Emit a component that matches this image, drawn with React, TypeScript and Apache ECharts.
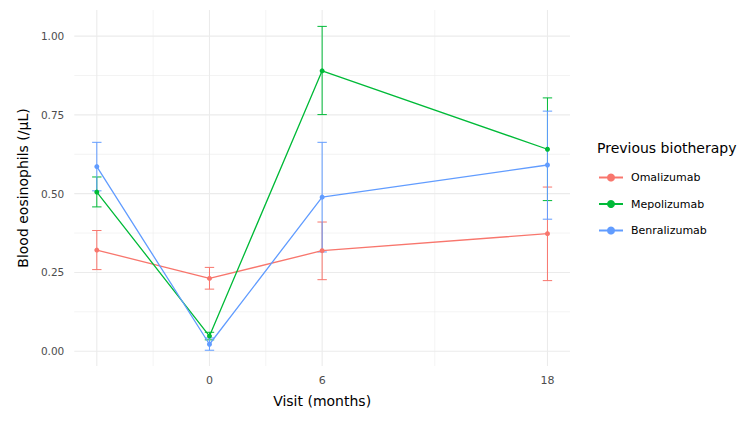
import React, { useEffect, useRef } from "react";
import * as echarts from "echarts";

// Visit times in months (-6 = baseline visit before switch)
const visits = [-6, 0, 6, 18];
const xTickLabels = [0, 6, 18];
const xGridMajor = [-6, 0, 6, 18];
const xGridMinor = [-3, 3, 12];
const yTickLabels = [0, 0.25, 0.5, 0.75, 1.0];
const yGridMinor = [0.125, 0.375, 0.625, 0.875];

const groups = ["Omalizumab", "Mepolizumab", "Benralizumab"];
const colors = ["#F8766D", "#00BA38", "#619CFF"];

const omaMean = [0.321, 0.231, 0.319, 0.373];
const omaLow = [0.259, 0.197, 0.227, 0.224];
const omaHigh = [0.383, 0.266, 0.41, 0.521];

const mepoMean = [0.505, 0.048, 0.89, 0.641];
const mepoLow = [0.458, 0.036, 0.751, 0.478];
const mepoHigh = [0.553, 0.06, 1.031, 0.804];

const benraMean = [0.586, 0.022, 0.489, 0.591];
const benraLow = [0.509, 0.003, 0.315, 0.419];
const benraHigh = [0.663, 0.042, 0.663, 0.762];

const means = [omaMean, mepoMean, benraMean];
const lows = [omaLow, mepoLow, benraLow];
const highs = [omaHigh, mepoHigh, benraHigh];

const FONT = "'DejaVu Sans', Verdana, sans-serif";
const X_MIN = -7.2;
const X_MAX = 19.2;
const Y_MIN = -0.047;
const Y_MAX = 1.083;

export default function App() {
  const ref = useRef<HTMLDivElement>(null);

  useEffect(() => {
    if (!ref.current) return;
    const chart = echarts.init(ref.current, undefined, { renderer: "svg" });

    const vGrid = {
      type: "custom",
      silent: true,
      z: 0,
      data: [
        ...xGridMajor.map((x) => [x, 1]),
        ...xGridMinor.map((x) => [x, 0]),
      ],
      renderItem: (params: any, api: any) => {
        const cs = params.coordSys;
        const p = api.coord([api.value(0), 0]);
        return {
          type: "line",
          shape: { x1: p[0], y1: cs.y, x2: p[0], y2: cs.y + cs.height },
          style: { stroke: "#EBEBEB", lineWidth: api.value(1) ? 1.1 : 0.6 },
        };
      },
    };

    const hGrid = {
      type: "custom",
      silent: true,
      z: 0,
      data: [
        ...yTickLabels.map((y) => [0, y, 1]),
        ...yGridMinor.map((y) => [0, y, 0]),
      ],
      renderItem: (params: any, api: any) => {
        const cs = params.coordSys;
        const p = api.coord([0, api.value(1)]);
        return {
          type: "line",
          shape: { x1: cs.x, y1: p[1], x2: cs.x + cs.width, y2: p[1] },
          style: { stroke: "#EBEBEB", lineWidth: api.value(2) ? 1.1 : 0.6 },
        };
      },
    };

    const errorSeries = groups.map((g, gi) => ({
      type: "custom",
      id: "err-" + g,
      silent: true,
      z: 2,
      data: visits.map((x, i) => [x, lows[gi][i], highs[gi][i]]),
      encode: { x: 0, y: [1, 2] },
      renderItem: (_params: any, api: any) => {
        const lo = api.coord([api.value(0), api.value(1)]);
        const hi = api.coord([api.value(0), api.value(2)]);
        const hw = 4.7;
        const style = { stroke: colors[gi], lineWidth: 1 };
        return {
          type: "group",
          children: [
            { type: "line", shape: { x1: lo[0], y1: lo[1], x2: hi[0], y2: hi[1] }, style },
            { type: "line", shape: { x1: lo[0] - hw, y1: lo[1], x2: lo[0] + hw, y2: lo[1] }, style },
            { type: "line", shape: { x1: hi[0] - hw, y1: hi[1], x2: hi[0] + hw, y2: hi[1] }, style },
          ],
        };
      },
    }));

    const lineSeries = groups.map((g, gi) => ({
      type: "line",
      name: g,
      z: 3,
      data: visits.map((x, i) => [x, means[gi][i]]),
      symbol: "circle",
      symbolSize: 5,
      showSymbol: true,
      lineStyle: { color: colors[gi], width: 1.3 },
      itemStyle: { color: colors[gi] },
    }));

    chart.setOption({
      animation: false,
      backgroundColor: "#ffffff",
      textStyle: { fontFamily: FONT },
      grid: { left: 62, right: 169, top: 2, bottom: 43, containLabel: false },
      xAxis: {
        type: "value",
        min: X_MIN,
        max: X_MAX,
        name: "Visit (months)",
        nameLocation: "middle",
        nameGap: 28,
        nameTextStyle: { color: "#000000", fontSize: 14, fontFamily: FONT },
        axisLine: { show: false },
        axisTick: { show: false },
        splitLine: { show: false },
        axisLabel: {
          customValues: xTickLabels,
          color: "#4D4D4D",
          fontSize: 11,
          margin: 9,
          fontFamily: FONT,
          formatter: (v: number) => String(v),
        },
      },
      yAxis: {
        type: "value",
        min: Y_MIN,
        max: Y_MAX,
        name: "Blood eosinophils (/µL)",
        nameLocation: "middle",
        nameGap: 42,
        nameRotate: 90,
        nameTextStyle: { color: "#000000", fontSize: 14, fontFamily: FONT },
        axisLine: { show: false },
        axisTick: { show: false },
        splitLine: { show: false },
        axisLabel: {
          customValues: yTickLabels,
          color: "#4D4D4D",
          fontSize: 10.5,
          margin: 10,
          fontFamily: FONT,
          formatter: (v: number) => v.toFixed(2),
        },
      },
      legend: {
        data: groups,
        orient: "vertical",
        left: 590,
        top: 164,
        padding: 0,
        itemWidth: 24,
        itemHeight: 10,
        itemGap: 15.5,
        textStyle: { color: "#000000", fontSize: 11, fontFamily: FONT, padding: [0, 0, 0, 3] },
        selectedMode: false,
      },
      graphic: [
        {
          type: "text",
          left: 589,
          top: 133,
          style: {
            text: "Previous biotherapy",
            fill: "#000000",
            fontSize: 14,
            fontFamily: FONT,
          },
        },
      ],
      series: [vGrid, hGrid, ...errorSeries, ...lineSeries],
    });

    return () => chart.dispose();
  }, []);

  return <div ref={ref} style={{ width: 731, height: 405 }} />;
}
